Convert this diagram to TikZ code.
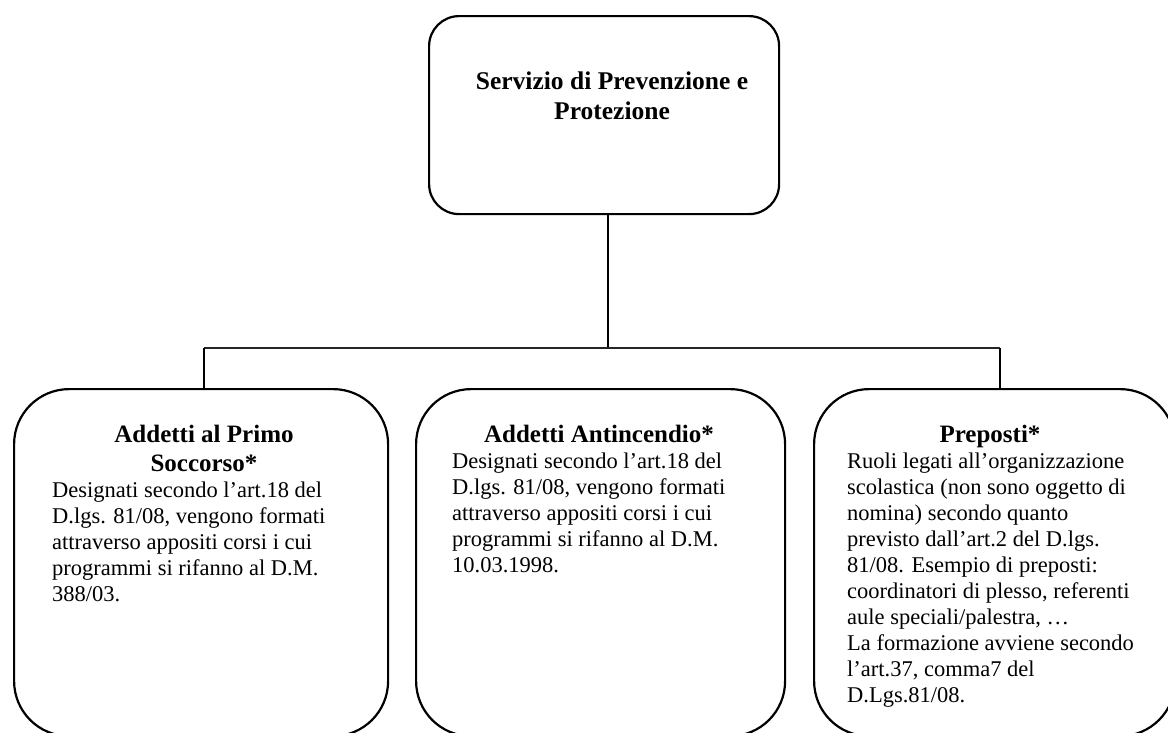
\documentclass[tikz,border=0pt]{standalone}
\usepackage{fontspec}
\setmainfont{Liberation Serif}
\begin{document}
\begin{tikzpicture}[x=1pt,y=-1pt,
  topbox/.style={draw=black, line width=2.2pt, rounded corners=30pt, anchor=north west, inner sep=0pt},
  lowbox/.style={draw=black, line width=2.2pt, rounded corners=55pt, anchor=north west, inner sep=0pt},
  headtxt/.style={inner sep=0pt, anchor=north, align=center, font=\fontsize{25}{29}\selectfont\bfseries},
  bodytxt/.style={inner sep=0pt, anchor=north west, align=left, font=\fontsize{22.5}{26}\selectfont},
  conn/.style={draw=black, line width=2.6pt},
  hconn/.style={draw=black!85, line width=1.5pt}]
\useasboundingbox (0,0) rectangle (1168,732);

% boxes
\node[topbox, minimum width=350pt, minimum height=198pt] (top) at (428,15) {};
\node[lowbox, minimum width=374pt, minimum height=347pt] (ps) at (13,388) {};
\node[lowbox, minimum width=369pt, minimum height=347pt] (ai) at (415,388) {};
\node[lowbox, minimum width=361pt, minimum height=347pt] (pr) at (813,388) {};

% texts
\node[headtxt, font=\fontsize{25.5}{30}\selectfont\bfseries] (toptxt) at (612,72) {Servizio di Prevenzione e\\Protezione};

\node[headtxt] (pshead) at (204,425) {Addetti al Primo\\Soccorso*};
\node[bodytxt] (psbody) at (52,482) {Designati secondo l’art.18 del\\D.lgs. 81/08, vengono formati\\attraverso appositi corsi i cui\\programmi si rifanno al D.M.\\388/03.};

\node[headtxt] (aihead) at (599,425) {Addetti Antincendio*};
\node[bodytxt] (aibody) at (452,453) {Designati secondo l’art.18 del\\D.lgs. 81/08, vengono formati\\attraverso appositi corsi i cui\\programmi si rifanno al D.M.\\10.03.1998.};

\node[headtxt] (prhead) at (990,425) {Preposti*};
\node[bodytxt] (prbody) at (847,453) {Ruoli legati all’organizzazione\\scolastica (non sono oggetto di\\nomina) secondo quanto\\previsto dall’art.2 del D.lgs.\\81/08. Esempio di preposti:\\coordinatori di plesso, referenti\\aule speciali/palestra, …\\La formazione avviene secondo\\l’art.37, comma7 del\\D.Lgs.81/08.};

% connectors
\coordinate (jc) at (608,348);
\coordinate (jl) at (204,348);
\coordinate (jr) at (1000,348);
\draw[conn] (top.south -| jc) -- (jc);
\draw[hconn] (jl) -- (jr);
\draw[conn] (jl) -- (jl |- ps.north);
\draw[conn] (jr) -- (jr |- pr.north);
\end{tikzpicture}
\end{document}
